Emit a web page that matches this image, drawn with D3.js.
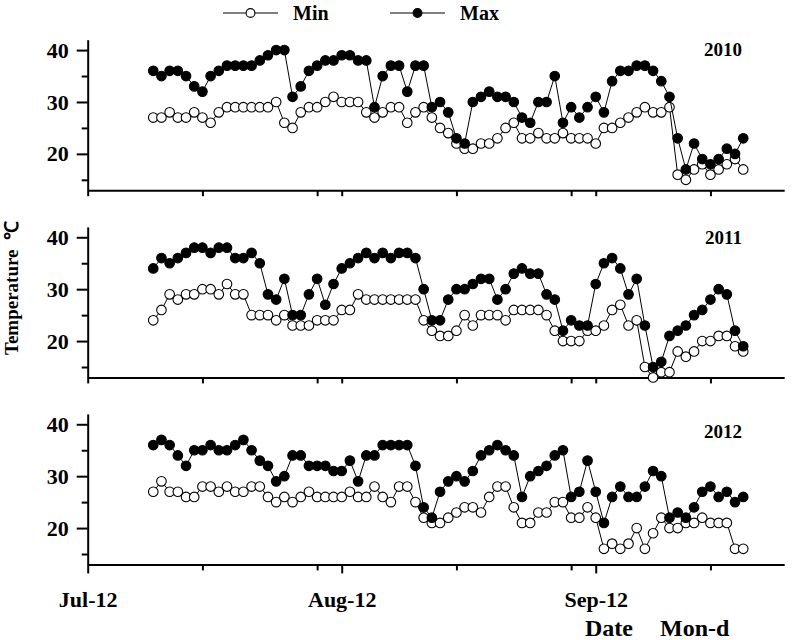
<!DOCTYPE html>
<html>
<head>
<meta charset="utf-8">
<script src="https://cdn.jsdelivr.net/npm/d3@7"></script>
<style>
  body { margin: 0; background: #fff; }
  svg text { font-family: "Liberation Serif", "Times New Roman", serif; font-weight: bold; fill: #000; }
</style>
</head>
<body>
<svg id="chart" width="797" height="640"></svg>
<script>
// ---------- data ----------
const firstDay = "2012-07-20";   // first observation
const lastDay  = "2012-09-30";   // last observation (daily series)
const years = ["2010", "2011", "2012"];
const seriesNames = ["Min", "Max"];

const min2010 = [27,27,28,27,27,28,27,26,28,29,29,29,29,29,29,30,26,
  25,28,29,29,30,31,30,30,30,28,27,28,29,29,26,28,29,27,25,24,22,21,21,22,22,23,25,26,23,
  23,24,23,23,24,23,23,23,22,25,25,26,27,28,29,28,28,29,16,15,17,18,16,17,18,19,17];
const max2010 = [36,35,36,36,35,33,32,35,36,37,37,37,37,38,39,40,40,
  31,33,36,37,38,38,39,39,38,38,29,35,37,37,32,37,37,29,30,28,23,22,30,31,32,31,31,30,27,
  26,30,30,35,26,29,27,29,31,28,34,36,36,37,37,36,34,31,23,17,22,19,18,19,21,20,23];

const min2011 = [24,26,29,28,29,29,30,30,29,31,29,29,25,25,25,24,25,
  23,23,23,24,24,24,26,26,29,28,28,28,28,28,28,28,24,22,21,21,22,25,23,25,25,25,24,26,26,
  26,26,25,22,20,20,20,22,22,23,26,27,23,24,15,13,14,14,18,17,18,20,20,21,21,19,18];
const max2011 = [34,36,35,36,37,38,38,37,38,38,36,36,37,35,29,28,32,
  25,25,29,32,27,31,34,35,36,37,36,37,36,37,37,36,30,24,24,28,30,30,31,32,32,28,30,33,34,
  33,33,29,28,22,24,23,23,31,35,36,34,29,32,23,15,16,21,22,23,25,26,28,30,29,22,19];

const min2012 = [27,29,27,27,26,26,28,28,27,28,27,27,28,28,26,25,26,
  25,26,27,26,26,26,26,27,26,26,28,26,25,28,28,25,22,21,21,22,23,24,24,23,26,28,28,24,21,
  21,23,23,25,25,22,22,24,22,16,17,16,17,20,16,19,22,20,20,21,21,22,21,21,21,16,16];
const max2012 = [36,37,36,34,32,35,35,36,35,35,36,37,35,33,32,29,30,
  34,34,32,32,32,31,31,33,29,34,34,36,36,36,36,32,24,22,27,29,30,29,31,34,35,36,35,34,26,
  30,31,32,34,35,26,27,33,27,21,26,28,26,26,28,31,30,22,23,22,24,27,28,26,27,25,26];

const majorTickDates = ["2012-07-12", "2012-08-12", "2012-09-12"];
const minorTickDates = ["2012-07-26", "2012-08-09", "2012-08-26", "2012-09-09", "2012-09-26"];
const yMajorTicks = [20, 30, 40];
const yMinorTicks = [15, 25, 35];
const yDomain = [13, 42];
const xDomain = ["2012-07-12", "2012-10-05"];

// ---------- build ----------
const parse = d3.timeParse("%Y-%m-%d");
const dates = d3.timeDay.range(parse(firstDay), d3.timeDay.offset(parse(lastDay), 1));
const panels = [
  { year: years[0], min: min2010, max: max2010 },
  { year: years[1], min: min2011, max: max2011 },
  { year: years[2], min: min2012, max: max2012 }
];

const svg = d3.select("#chart");
const x0 = 87.7, pxPerDay = 8.194;
const xDom = xDomain.map(parse);
const x = d3.scaleTime().domain(xDom)
  .range([x0, x0 + pxPerDay * d3.timeDay.count(xDom[0], xDom[1])]);

const panelTops = [39.7, 226.9, 413.9];
const panelH = 150.5;
const yearOffsets = [16, 17, 24];
const fmt = d3.timeFormat("%b-%-d");
const R = 4.8;

panels.forEach((p, i) => {
  const top = panelTops[i];
  const bottom = top + panelH;
  const y = d3.scaleLinear().domain(yDomain).range([bottom, top]);
  const g = svg.append("g");
  const isLast = i === panels.length - 1;

  // y axis
  const yAx = g.append("g").attr("transform", `translate(${x0},0)`)
    .call(d3.axisLeft(y).tickValues(yMajorTicks).tickSize(11).tickSizeOuter(0).tickPadding(8));
  yAx.selectAll("text").style("font-size", "22px");
  const yMin = g.append("g").attr("transform", `translate(${x0},0)`)
    .call(d3.axisLeft(y).tickValues(yMinorTicks).tickSize(6).tickFormat(""));
  yMin.select(".domain").remove();

  // x axis
  const xAx = g.append("g").attr("transform", `translate(0,${bottom})`)
    .call(d3.axisBottom(x).tickValues(majorTickDates.map(parse)).tickSize(isLast ? 9 : 6)
      .tickSizeOuter(0).tickPadding(isLast ? 18 : 4).tickFormat(isLast ? fmt : ""));
  xAx.selectAll("text").style("font-size", "22px");
  g.append("g").attr("transform", `translate(0,${bottom})`)
    .call(d3.axisBottom(x).tickValues(minorTickDates.map(parse)).tickSize(6).tickFormat(""))
    .select(".domain").remove();

  g.selectAll(".domain, .tick line").attr("stroke", "#000").attr("stroke-width", 2);

  const drawSeries = (vals, fill) => {
    const pts = vals.map((v, k) => ({ d: dates[k], v }));
    g.append("path").datum(pts)
      .attr("fill", "none").attr("stroke", "#000").attr("stroke-width", 1)
      .attr("d", d3.line().x(d => x(d.d)).y(d => y(d.v)));
    g.selectAll(null).data(pts).enter().append("circle")
      .attr("cx", d => x(d.d)).attr("cy", d => y(d.v)).attr("r", R)
      .attr("fill", fill).attr("stroke", "#000").attr("stroke-width", 1.1);
  };
  drawSeries(p.min, "#fff");
  drawSeries(p.max, "#000");

  g.append("text").attr("x", 742).attr("y", top + yearOffsets[i])
    .attr("text-anchor", "end").style("font-size", "19px").text(p.year);
});

// legend
const legend = [
  { name: seriesNames[0], fill: "#fff", x: 223 },
  { name: seriesNames[1], fill: "#000", x: 390 }
];
legend.forEach(l => {
  const lg = svg.append("g").attr("transform", `translate(${l.x},13)`);
  lg.append("line").attr("x1", 0).attr("x2", 55).attr("stroke", "#000").attr("stroke-width", 1);
  lg.append("circle").attr("cx", 27.5).attr("r", 4.4).attr("fill", l.fill)
    .attr("stroke", "#000").attr("stroke-width", 1.1);
  lg.append("text").attr("x", 70).attr("y", 7).style("font-size", "20px").text(l.name);
});

// axis titles
svg.append("text").attr("transform", "translate(18,288) rotate(-90)")
  .attr("text-anchor", "middle").attr("xml:space", "preserve").style("white-space", "pre")
  .style("font-size", "19px").text("Temperature  ℃");
svg.append("text").attr("x", 585).attr("y", 636).style("font-size", "24px").text("Date");
svg.append("text").attr("x", 660).attr("y", 636).style("font-size", "24px").text("Mon-d");
</script>
</body>
</html>
